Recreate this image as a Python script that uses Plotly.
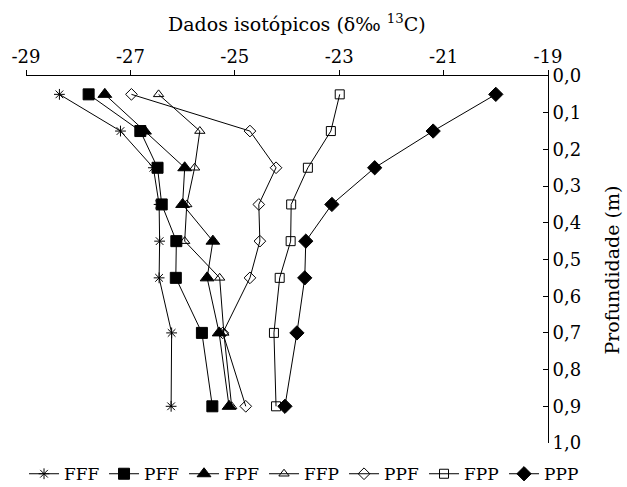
import plotly.graph_objects as go

# Depth of each sample (m)
depth = [0.05, 0.15, 0.25, 0.35, 0.45, 0.55, 0.70, 0.90]

# δ13C values (‰) per treatment
fff = [-28.36, -27.19, -26.56, -26.45, -26.44, -26.45, -26.21, -26.22]
pff = [-27.80, -26.81, -26.48, -26.40, -26.12, -26.13, -25.63, -25.43]
fpf = [-27.49, -26.73, -25.96, -26.00, -25.42, -25.53, -25.30, -25.11]
ffp = [-26.46, -25.67, -25.77, -25.92, -25.96, -25.29, -25.21, -25.06]
ppf = [-26.98, -24.71, -24.21, -24.54, -24.52, -24.71, -25.23, -24.79]
fpp = [-22.99, -23.16, -23.60, -23.92, -23.93, -24.14, -24.25, -24.21]
ppp = [-20.00, -21.20, -22.32, -23.14, -23.64, -23.66, -23.81, -24.04]

x_ticks = [-29, -27, -25, -23, -21, -19]
y_ticks = [0.0, 0.1, 0.2, 0.3, 0.4, 0.5, 0.6, 0.7, 0.8, 0.9, 1.0]

FONT = "DejaVu Serif"

series = [
    ("FFF", fff, "asterisk-open", 9),
    ("PFF", pff, "square", 11),
    ("FPF", fpf, "triangle-up", 12),
    ("FFP", ffp, "triangle-up-open", 9),
    ("PPF", ppf, "diamond-open", 9),
    ("FPP", fpp, "square-open", 9),
    ("PPP", ppp, "diamond", 11),
]

fig = go.Figure()
for name, vals, sym, size in series:
    fig.add_trace(go.Scatter(
        x=vals, y=depth, name=name, mode="lines+markers",
        line=dict(color="black", width=1),
        marker=dict(symbol=sym, size=size, color="black",
                    line=dict(color="black", width=1)),
    ))

fig.update_layout(
    width=627, height=487,
    margin=dict(l=26, r=79, t=76, b=44, autoexpand=False),
    paper_bgcolor="white", plot_bgcolor="white",
    separators=", ",
    font=dict(family=FONT, size=18, color="black"),
    showlegend=True,
    legend=dict(orientation="h", x=1.069, xanchor="right", y=-0.085, yanchor="middle",
                font=dict(family=FONT, size=17), tracegroupgap=0,
                itemwidth=30, entrywidth=35, entrywidthmode="pixels",
                bgcolor="rgba(0,0,0,0)"),
    xaxis=dict(
        side="top", range=[-29, -19], tickvals=x_ticks,
        ticktext=[str(v) for v in x_ticks],
        showgrid=False, zeroline=False, showline=True,
        linecolor="black", linewidth=1,
        ticks="outside", ticklen=5, tickcolor="black",
        tickfont=dict(family=FONT, size=18), automargin=False,
    ),
    yaxis=dict(
        side="right", range=[1.0, 0.0], tickvals=y_ticks, tickformat=".1f",
        showgrid=False, zeroline=False, showline=True,
        linecolor="black", linewidth=1,
        ticks="inside", ticklen=5, tickcolor="black",
        tickfont=dict(family=FONT, size=18), automargin=False,
    ),
    annotations=[
        dict(text="Dados isotópicos (δ‰ <sup>13</sup>C)", xref="paper", yref="paper",
             x=0.52, y=1.0, yshift=53, xanchor="center", yanchor="middle",
             showarrow=False, font=dict(family=FONT, size=19)),
        dict(text="Profundidade (m)", xref="paper", yref="paper",
             x=1.0, xshift=64, y=0.47, xanchor="center", yanchor="middle",
             textangle=-90, showarrow=False, font=dict(family=FONT, size=19)),
    ],
)

fig.write_html("out.html")
